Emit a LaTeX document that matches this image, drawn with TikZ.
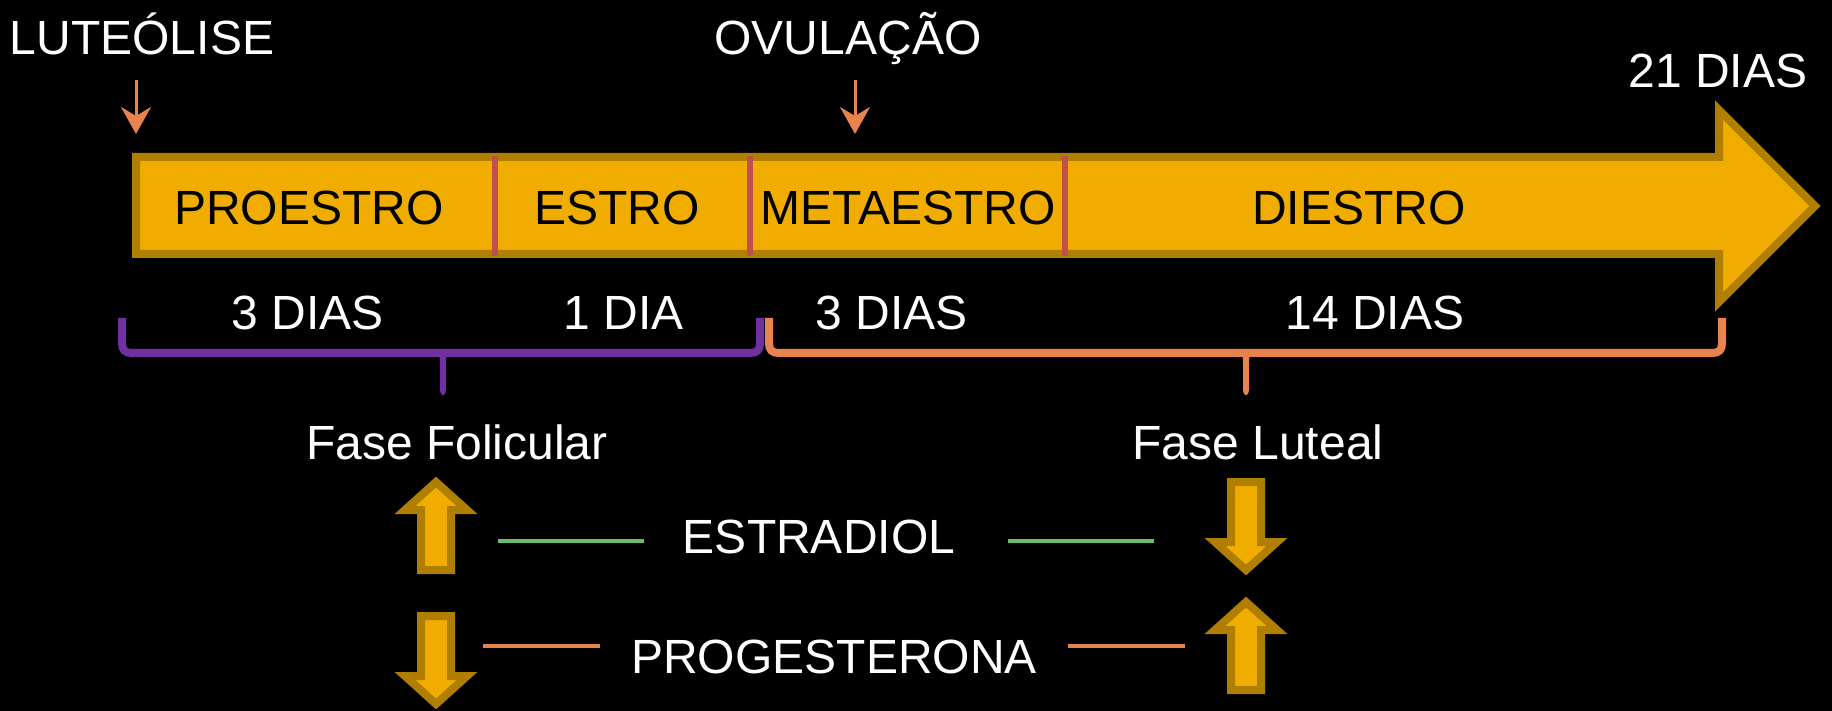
\documentclass[tikz,border=0pt]{standalone}
\usepackage{fontspec}
\setmainfont{Liberation Sans}
\usetikzlibrary{arrows.meta}
\definecolor{gold}{HTML}{F0AD00}
\definecolor{golddark}{HTML}{B07F00}
\definecolor{divred}{HTML}{C0504D}
\definecolor{orng}{HTML}{E8834E}
\definecolor{purp}{HTML}{7030A0}
\definecolor{grn}{HTML}{68BC68}
\tikzset{
  lbl/.style={text=white,font=\fontsize{48}{56}\selectfont,inner sep=0pt,anchor=base},
  inlbl/.style={text=black,font=\fontsize{48}{56}\selectfont,inner sep=0pt,anchor=base},
  mainarr/.style={fill=gold,draw=golddark,line width=8pt,line join=miter},
  divider/.style={draw=divred,line width=6pt},
  smallarr/.style={draw=orng,line width=3pt,-{Stealth[length=27pt,width=30pt,inset=9pt]}},
  bracepurp/.style={draw=purp,line width=8pt},
  braceorng/.style={draw=orng,line width=8pt},
  blockarr/.style={fill=gold,draw=golddark,line width=8pt,line join=miter},
  hline/.style={line width=4pt},
  blockup/.pic={\draw[blockarr] (0,6) -- (31,34) -- (15,34) -- (15,94) -- (-15,94) -- (-15,34) -- (-31,34) -- cycle;},
  blockdown/.pic={\draw[blockarr] (0,-6) -- (31,-34) -- (15,-34) -- (15,-94) -- (-15,-94) -- (-15,-34) -- (-31,-34) -- cycle;}
}
\begin{document}
\begin{tikzpicture}[x=1pt,y=-1pt]
\useasboundingbox[fill=black] (0,0) rectangle (1832,711);

% top labels
\node[lbl] (lut) at (142,55) {LUTEÓLISE};
\node[lbl] (ovu) at (848,55) {OVULAÇÃO};
\node[lbl] (d21) at (1718,88) {21 DIAS};

% main arrow
\draw[mainarr] (136,157) -- (1719,157) -- (1719,110) -- (1815,206) -- (1719,302) -- (1719,254) -- (136,254) -- cycle;
\coordinate (dv1a) at (495,156); \coordinate (dv1b) at (495,256);
\coordinate (dv2a) at (750,156); \coordinate (dv2b) at (750,256);
\coordinate (dv3a) at (1065,156); \coordinate (dv3b) at (1065,256);
\draw[divider] (dv1a) -- (dv1b);
\draw[divider] (dv2a) -- (dv2b);
\draw[divider] (dv3a) -- (dv3b);

\node[inlbl] (pro) at (309,225) {PROESTRO};
\node[inlbl] (est) at (617,225) {ESTRO};
\node[inlbl] (met) at (908,225) {METAESTRO};
\node[inlbl] (die) at (1359,225) {DIESTRO};

% small arrows
\coordinate (la) at (136,80); \coordinate (lb) at (136,134);
\coordinate (oa) at (855,80); \coordinate (ob) at (855,134);
\draw[smallarr] (la) -- (lb);
\draw[smallarr] (oa) -- (ob);

% day labels
\node[lbl] (d3a) at (308,330) {3 DIAS};
\node[lbl] (d1) at (624,330) {1 DIA};
\node[lbl] (d3b) at (892,330) {3 DIAS};
\node[lbl] (d14) at (1375,330) {14 DIAS};

% braces
\draw[bracepurp] (122,318) -- (122,343) .. controls (122,350) and (125,353) .. (132,353) -- (750,353) .. controls (757,353) and (760,350) .. (760,343) -- (760,318);
\fill[purp] (433,350) .. controls (439,353) and (440,356) .. (440,362) -- (440,390) .. controls (441,397) and (445,397) .. (446,390) -- (446,362) .. controls (446,356) and (447,353) .. (453,350) -- cycle;
\draw[braceorng] (769,318) -- (769,343) .. controls (769,350) and (772,353) .. (779,353) -- (1712,353) .. controls (1719,353) and (1722,350) .. (1722,343) -- (1722,318);
\fill[orng] (1236,350) .. controls (1242,353) and (1243,356) .. (1243,362) -- (1243,390) .. controls (1244,397) and (1248,397) .. (1249,390) -- (1249,362) .. controls (1249,356) and (1250,353) .. (1256,350) -- cycle;

\node[lbl] (ff) at (457,459) {Fase Folicular};
\node[lbl] (fl) at (1258,459) {Fase Luteal};

% hormones
\node[lbl] (estr) at (819,553) {ESTRADIOL};
\node[lbl] (prog) at (834,673) {PROGESTERONA};

\pic at (436,476) {blockup};
\pic at (436,710) {blockdown};
\pic at (1246,576) {blockdown};
\pic at (1246,596) {blockup};

\coordinate (g1a) at (498,541); \coordinate (g1b) at (644,541);
\coordinate (g2a) at (1008,541); \coordinate (g2b) at (1154,541);
\coordinate (o1a) at (483,646); \coordinate (o1b) at (600,646);
\coordinate (o2a) at (1068,646); \coordinate (o2b) at (1185,646);
\draw[hline,grn] (g1a) -- (g1b);
\draw[hline,grn] (g2a) -- (g2b);
\draw[hline,orng] (o1a) -- (o1b);
\draw[hline,orng] (o2a) -- (o2b);
\end{tikzpicture}
\end{document}
